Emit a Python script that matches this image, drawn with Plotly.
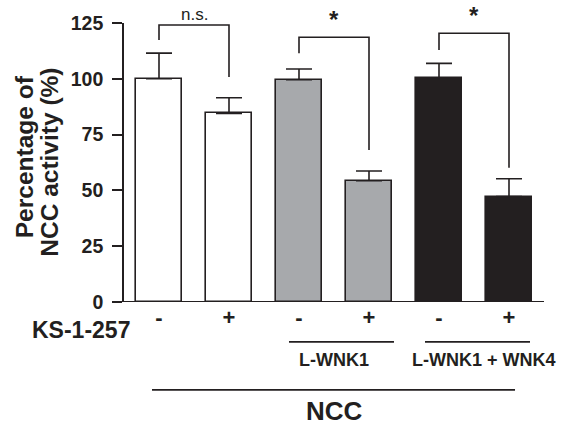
import plotly.graph_objects as go

# ---- data ----
positions = [0, 1, 2, 3, 4, 5]
drug_labels = ["-", "+", "-", "+", "-", "+"]
activity = [100, 84.5, 99.6, 54.3, 100.4, 47.2]
sem = [11.5, 7.0, 4.8, 4.4, 6.5, 8.0]
bar_colors = ["#ffffff", "#ffffff", "#a7a9ac", "#a7a9ac", "#231f20", "#231f20"]
y_ticks = [0, 25, 50, 75, 100, 125]

# significance brackets: (left x, right x, top y, left leg bottom, right leg bottom, label)
bracket_left = [0, 2, 4]
bracket_right = [1, 3, 5]
bracket_top = [124.1, 118.6, 120.4]
bracket_left_end = [117.4, 111.4, 112.9]
bracket_right_end = [100.8, 68.1, 60.2]
bracket_text = ["n.s.", "*", "*"]

FONT = "Liberation Sans, Arial, sans-serif"
INK = "#231f20"

fig = go.Figure()
fig.add_trace(go.Bar(
    x=positions, y=activity, width=0.67,
    marker=dict(color=bar_colors, line=dict(color=INK, width=1.6)),
    error_y=dict(type="data", array=sem, arrayminus=[0]*len(sem), symmetric=False,
                 color=INK, thickness=1.6, width=13),
    showlegend=False, hoverinfo="skip",
))

shapes = []
annotations = []
for i in range(len(bracket_left)):
    xl, xr = bracket_left[i], bracket_right[i]
    yt = bracket_top[i]
    path = f"M {xl},{bracket_left_end[i]} L {xl},{yt} L {xr},{yt} L {xr},{bracket_right_end[i]}"
    shapes.append(dict(type="path", path=path, xref="x", yref="y",
                       line=dict(color=INK, width=1.6)))
    is_star = bracket_text[i] == "*"
    annotations.append(dict(
        x=(xl + xr) / 2, y=yt, xref="x", yref="y",
        text=("<b>*</b>" if is_star else bracket_text[i]),
        showarrow=False, xanchor="center", yanchor="middle",
        yshift=(18 if is_star else 11),
        font=dict(family=FONT, size=(24 if is_star else 17), color=INK),
    ))

# x baseline (drawn over bar bottoms)
shapes.append(dict(type="line", xref="x", yref="y", x0=-0.5, x1=5.5, y0=0, y1=0,
                   line=dict(color=INK, width=1.8), layer="above"))

# group lines under the axis
shapes.append(dict(type="line", xref="x", yref="paper", x0=1.857, x1=3.357, y0=-0.143, y1=-0.143,
                   line=dict(color=INK, width=1.8)))
shapes.append(dict(type="line", xref="x", yref="paper", x0=3.8, x1=5.3, y0=-0.143, y1=-0.143,
                   line=dict(color=INK, width=1.8)))
shapes.append(dict(type="line", xref="x", yref="paper", x0=-0.1, x1=5.086, y0=-0.315, y1=-0.315,
                   line=dict(color=INK, width=1.8)))

def label(x, y, text, size, xref="x", xanchor="center", angle=0):
    return dict(x=x, y=y, xref=xref, yref="paper", text=text, showarrow=False,
                xanchor=xanchor, yanchor="middle", textangle=angle,
                font=dict(family=FONT, size=size, color=INK))

annotations += [
    label(2.5, -0.208, "<b>L-WNK1</b>", 18),
    label(4.64, -0.208, "<b>L-WNK1 + WNK4</b>", 18),
    label(2.5, -0.39, "<b>NCC</b>", 26),
    label(0.019, -0.1, "<b>KS-1-257</b>", 23, xref="paper", xanchor="right"),
    label(-0.235, 0.52, "<b>Percentage of</b>", 24.5, xref="paper", angle=-90),
    label(-0.178, 0.5, "<b>NCC activity (%)</b>", 24.5, xref="paper", angle=-90),
]

fig.update_layout(
    width=562, height=426,
    margin=dict(l=124, r=18, t=23, b=124),
    paper_bgcolor="white", plot_bgcolor="white",
    shapes=shapes, annotations=annotations,
    bargap=0,
    xaxis=dict(range=[-0.5, 5.5], tickmode="array", tickvals=positions,
               ticktext=[f"<b>{t}</b>" for t in drug_labels],
               ticks="", showline=False,
               showgrid=False, zeroline=False, ticklabelstandoff=0,
               tickfont=dict(family=FONT, size=22, color=INK)),
    yaxis=dict(range=[0, 125], tickmode="array", tickvals=y_ticks,
               ticktext=[f"<b>{t}</b>" for t in y_ticks],
               ticks="outside", ticklen=10, tickwidth=1.6, tickcolor=INK,
               showline=True, linecolor=INK, linewidth=1.6,
               showgrid=False, zeroline=False, ticklabelstandoff=5,
               tickfont=dict(family=FONT, size=19.5, color=INK)),
)

fig.write_html("out.html", config={"displayModeBar": False},
               post_script="document.body.style.margin='0';document.body.style.overflow='hidden';")
